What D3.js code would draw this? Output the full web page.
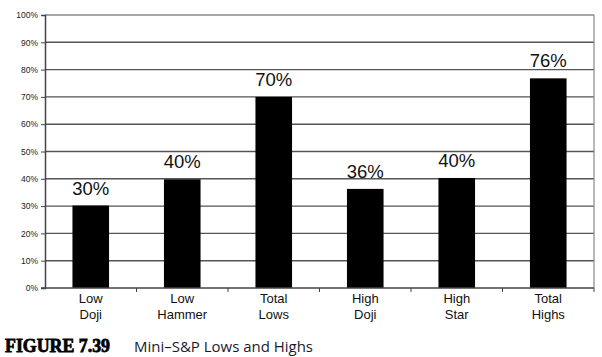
<!DOCTYPE html>
<html><head><meta charset="utf-8">
<script src="https://cdn.jsdelivr.net/npm/d3@7"></script>
<style>body{margin:0;background:#fff}svg{display:block}</style>
</head><body>
<script>
const categories = [["Low","Doji"],["Low","Hammer"],["Total","Lows"],["High","Doji"],["High","Star"],["Total","Highs"]];
const values = [30.2, 39.8, 70, 36.3, 40.3, 76.8];
const valueLabels = ["30%","40%","70%","36%","40%","76%"];
const yTicks = [0,10,20,30,40,50,60,70,80,90,100];

(function () {
const W = 602, H = 357;
const pLeft = 45, pRight = 594, pTop = 15, pBottom = 288;
const svg = d3.select("body").append("svg").attr("width", W).attr("height", H);

const x = d3.scaleBand().domain(d3.range(categories.length)).range([pLeft, pRight]).paddingInner(0.6).paddingOuter(0.3);
const xb = d3.scaleBand().domain(d3.range(categories.length)).range([pLeft, pRight]);
const y = d3.scaleLinear().domain([0, 100]).range([pBottom, pTop]);

// gridlines
svg.append("g").selectAll("line").data(yTicks.filter(d => d > 0)).join("line")
  .attr("x1", pLeft).attr("x2", pRight).attr("y1", d => y(d)).attr("y2", d => y(d))
  .attr("stroke", d => d === 100 ? "#888" : "#555").attr("stroke-width", 1.4);
// right border
svg.append("line").attr("x1", pRight).attr("x2", pRight).attr("y1", pTop).attr("y2", pBottom)
  .attr("stroke", "#888").attr("stroke-width", 1.2);

// bars
svg.append("g").selectAll("rect").data(values).join("rect")
  .attr("x", (d, i) => x(i)).attr("width", x.bandwidth())
  .attr("y", d => y(d)).attr("height", d => pBottom - y(d)).attr("fill", "#000");

// value labels
svg.append("g").selectAll("text").data(values).join("text")
  .attr("x", (d, i) => x(i) + x.bandwidth() / 2).attr("y", d => y(d) - 11)
  .attr("text-anchor", "middle").attr("font-family", "Liberation Sans, Arial, sans-serif")
  .attr("font-size", 18.5).attr("fill", "#111").text((d, i) => valueLabels[i]);

// y axis
const yAxis = d3.axisLeft(y).tickValues(yTicks).tickFormat(d => d + "%").tickSize(4).tickPadding(3);
const gy = svg.append("g").attr("transform", `translate(${pLeft},0)`).call(yAxis);
gy.select(".domain").attr("stroke", "#444").attr("stroke-width", 1.5);
gy.selectAll(".tick line").attr("stroke", "#444");
gy.selectAll("text").attr("font-family", "Liberation Sans, Arial, sans-serif").attr("font-size", 8.5).attr("fill", "#222");

// x axis
const gx = svg.append("g").attr("transform", `translate(0,${pBottom})`);
gx.append("line").attr("x1", pLeft - 4).attr("x2", pRight).attr("y1", 0).attr("y2", 0).attr("stroke", "#444").attr("stroke-width", 1.5);
gx.selectAll("line.t").data(d3.range(categories.length)).join("line").attr("class", "t")
  .attr("x1", i => xb(i) + xb.bandwidth()).attr("x2", i => xb(i) + xb.bandwidth())
  .attr("y1", 0).attr("y2", 4).attr("stroke", "#444");
const lab = gx.selectAll("text").data(categories).join("text")
  .attr("text-anchor", "middle").attr("font-family", "Liberation Sans, Arial, sans-serif")
  .attr("font-size", 13).attr("fill", "#111");
lab.each(function(d, i) {
  const t = d3.select(this);
  d.forEach((s, k) => t.append("tspan").attr("x", xb(i) + xb.bandwidth() / 2).attr("y", 15 + k * 16).text(s));
});

// caption
svg.append("text").attr("x", 5).attr("y", 352).attr("font-family", "Liberation Serif, serif")
  .attr("font-weight", "bold").attr("font-size", 19).attr("fill", "#000")
  .attr("stroke", "#000").attr("stroke-width", 0.8)
  .attr("textLength", 105).attr("lengthAdjust", "spacingAndGlyphs").text("FIGURE 7.39");
svg.append("text").attr("x", 134).attr("y", 352).attr("font-family", "Open Sans, sans-serif")
  .attr("font-size", 14).attr("fill", "#1a1a2e")
  .attr("textLength", 179).attr("lengthAdjust", "spacingAndGlyphs").text("Mini–S&P Lows and Highs");
})();
</script>
</body></html>
